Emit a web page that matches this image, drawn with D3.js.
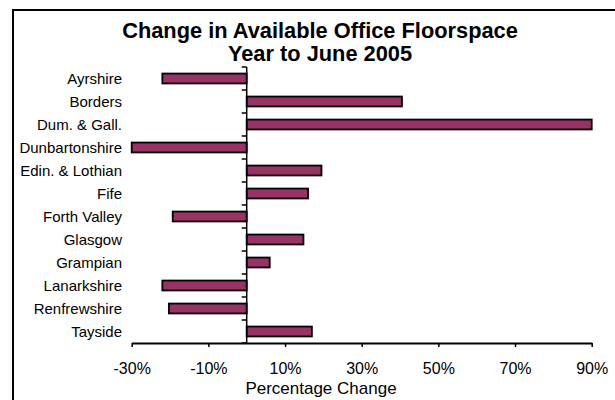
<!DOCTYPE html>
<html>
<head>
<meta charset="utf-8">
<script src="https://cdn.jsdelivr.net/npm/d3@7"></script>
<style>
  html, body { margin: 0; padding: 0; background: #fff; }
  svg { display: block; }
  text { font-family: "Liberation Sans", Arial, sans-serif; fill: #000; }
</style>
</head>
<body>
<svg id="chart" width="615" height="400"></svg>
<script>
// Regions and their change in available office floorspace (%)
const regions = [
  "Ayrshire", "Borders", "Dum. & Gall.", "Dunbartonshire", "Edin. & Lothian", "Fife",
  "Forth Valley", "Glasgow", "Grampian", "Lanarkshire", "Renfrewshire", "Tayside"
];
const changes = [-22, 40.5, 90, -30, 19.5, 16, -19.3, 14.8, 6, -22, -20.3, 17];
const tickValues = [-30, -10, 10, 30, 50, 70, 90];
const titleLines = ["Change in Available Office Floorspace", "Year to June 2005"];
const axisTitle = "Percentage Change";

const svg = d3.select("#chart");

// Outer chart frame (runs off the right and bottom edges)
svg.append("rect")
  .attr("x", 13).attr("y", 10)
  .attr("width", 620).attr("height", 400)
  .attr("fill", "#fff").attr("stroke", "#000").attr("stroke-width", 2);

const x = d3.scaleLinear().domain([-30, 90]).range([131.7, 591.7]);
const y = d3.scaleBand().domain(regions).range([67, 343]).paddingInner(0).paddingOuter(0);

// Title
svg.append("g").selectAll("text")
  .data(titleLines)
  .join("text")
  .attr("x", 320)
  .attr("y", (d, i) => 37.5 + i * 23)
  .attr("text-anchor", "middle")
  .attr("font-weight", "bold")
  .attr("font-size", 21.8)
  .text(d => d);

// Bars
const barH = y.bandwidth() * 0.43;
svg.append("g").selectAll("rect")
  .data(regions.map((r, i) => ({ region: r, value: changes[i] })))
  .join("rect")
  .attr("x", d => x(Math.min(0, d.value)))
  .attr("width", d => Math.abs(x(d.value) - x(0)))
  .attr("y", d => y(d.region) + (y.bandwidth() - barH) / 2)
  .attr("height", barH)
  .attr("fill", "#993366")
  .attr("stroke", "#000")
  .attr("stroke-width", 1.8);

// Category axis at zero, with ticks on band boundaries
const x0 = x(0);
const bounds = regions.map(r => y(r)).concat([y.range()[1]]);
const yAxis = svg.append("g");
yAxis.append("line")
  .attr("x1", x0).attr("x2", x0)
  .attr("y1", y.range()[0]).attr("y2", y.range()[1])
  .attr("stroke", "#000").attr("stroke-width", 1.5);
yAxis.selectAll("line.tick")
  .data(bounds)
  .join("line")
  .attr("class", "tick")
  .attr("x1", x0 - 5).attr("x2", x0)
  .attr("y1", d => d).attr("y2", d => d)
  .attr("stroke", "#000").attr("stroke-width", 1.5);

// Category labels
svg.append("g").selectAll("text")
  .data(regions)
  .join("text")
  .attr("x", 122)
  .attr("y", d => y(d) + y.bandwidth() / 2)
  .attr("dy", "0.35em")
  .attr("text-anchor", "end")
  .attr("font-size", 15)
  .text(d => d);

// Value axis
const xAxis = svg.append("g")
  .attr("transform", `translate(0,${y.range()[1]})`)
  .call(d3.axisBottom(x).tickValues(tickValues).tickSizeInner(4).tickSizeOuter(0)
    .tickPadding(16).tickFormat(d => d + "%"));
xAxis.select(".domain").attr("stroke", "#000").attr("stroke-width", 2);
xAxis.selectAll(".tick line").attr("stroke", "#000").attr("stroke-width", 1.5);
xAxis.selectAll(".tick text")
  .attr("font-family", "Liberation Sans, Arial, sans-serif")
  .attr("font-size", 16).attr("fill", "#000");

svg.append("text")
  .attr("x", 321).attr("y", 394)
  .attr("text-anchor", "middle")
  .attr("font-size", 17)
  .text(axisTitle);
</script>
</body>
</html>
